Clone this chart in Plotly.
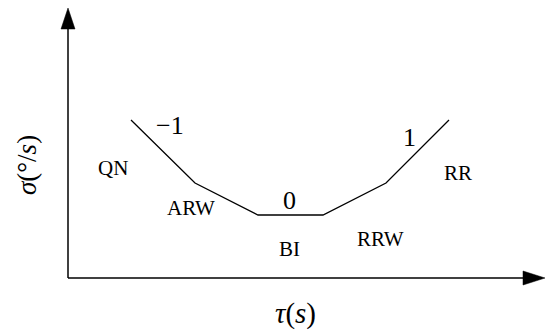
import plotly.graph_objects as go

# piecewise slopes of the Allan variance curve (schematic)
tau = [6.3, 12.7, 19.0, 25.5, 31.8, 38.1]
sigma = [15.8, 9.5, 6.3, 6.3, 9.5, 15.8]

region_labels = ["QN", "ARW", "BI", "RRW", "RR"]
region_x = [4.5, 12.3, 22.1, 31.2, 39.0]
region_y = [11.0, 7.0, 2.9, 3.9, 10.5]

slope_labels = ["\u22121", "0", "1"]
slope_x = [10.2, 22.1, 34.1]
slope_y = [15.3, 7.8, 14.1]

font_family = "Liberation Serif"

fig = go.Figure()

fig.add_trace(go.Scatter(
    x=tau, y=sigma, mode="lines",
    line=dict(color="black", width=1.3),
    hoverinfo="skip", showlegend=False
))

# axes with arrow heads
x_end, y_end = 47.7, 27.0
head_len_x, head_len_y, half_w = 2.2, 2.1, 0.7
shapes = [
    dict(type="line", x0=0, y0=0, x1=x_end - head_len_x, y1=0,
         line=dict(color="black", width=1.5)),
    dict(type="line", x0=0, y0=0, x1=0, y1=y_end - head_len_y,
         line=dict(color="black", width=1.5)),
    dict(type="path",
         path=f"M {x_end - head_len_x},{-half_w} L {x_end},0 L {x_end - head_len_x},{half_w} Z",
         fillcolor="black", line=dict(color="black", width=0.5)),
    dict(type="path",
         path=f"M {-half_w},{y_end - head_len_y} L 0,{y_end} L {half_w},{y_end - head_len_y} Z",
         fillcolor="black", line=dict(color="black", width=0.5)),
]

annotations = []
for txt, x, y in zip(region_labels, region_x, region_y):
    annotations.append(dict(x=x, y=y, text=txt, showarrow=False,
                            font=dict(family=font_family, size=21, color="black")))
for txt, x, y in zip(slope_labels, slope_x, slope_y):
    annotations.append(dict(x=x, y=y, text=txt, showarrow=False,
                            font=dict(family=font_family, size=26, color="black")))

annotations.append(dict(x=22.7, y=-3.5, text="<i>\u03c4</i>(<i>s</i>)", showarrow=False,
                        font=dict(family=font_family, size=29, color="black")))
annotations.append(dict(x=-4.1, y=11.3, text="<i>\u03c3</i>(\u00b0/<i>s</i>)", showarrow=False,
                        textangle=-90,
                        font=dict(family=font_family, size=27, color="black")))

fig.update_layout(
    width=550, height=335,
    margin=dict(l=0, r=0, t=0, b=0),
    paper_bgcolor="white", plot_bgcolor="white",
    font=dict(family=font_family),
    xaxis=dict(range=[-6.8, 48.2], visible=False, fixedrange=True),
    yaxis=dict(range=[-5.7, 27.8], visible=False, fixedrange=True),
    shapes=shapes,
    annotations=annotations,
)

# drop the default page margin so the figure sits at the window origin
fig.write_html(
    "out.html",
    config={"responsive": False, "displayModeBar": False},
    post_script="document.body.style.margin='0';document.body.style.overflow='hidden';",
)
